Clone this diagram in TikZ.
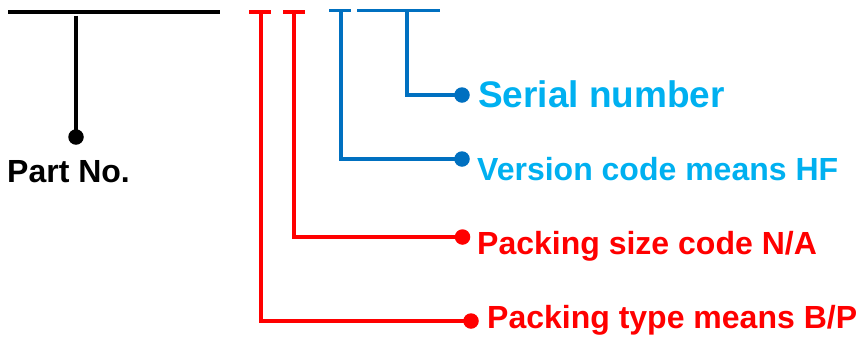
\documentclass[tikz,border=0pt]{standalone}
\usepackage{fontspec}
\setmainfont{Liberation Sans}
\definecolor{lineblue}{HTML}{0070C0}
\definecolor{textblue}{HTML}{00B0F0}
\definecolor{pred}{HTML}{FF0000}
\begin{document}
\begin{tikzpicture}[x=1pt,y=-1pt,
  conn/.style={line width=3.7pt},
  dot/.style={circle,inner sep=0pt,minimum size=15.5pt},
  lbl/.style={anchor=base west,inner sep=0pt,font=\bfseries\fontsize{32}{38}\selectfont}]
\useasboundingbox (0,0) rectangle (858,338);
% black part
\coordinate (kL) at (8,12);
\coordinate (kR) at (220,12);
\coordinate (kT) at (76,15.5);
\node[dot,fill=black] (kd) at (76,137) {};
\draw[conn,black] (kL) -- (kR);
\draw[conn,black] (kT) -- (kd.center);
\node[lbl,text=black] (part) at (7,182) {Part No.};
% red T1 (packing type)
\coordinate (r1L) at (249,12);
\coordinate (r1R) at (271,12);
\coordinate (r1T) at (261,12);
\coordinate (r1C) at (261,321);
\node[dot,fill=pred] (r1d) at (471,321) {};
\draw[conn,pred] (r1L) -- (r1R);
\draw[conn,pred] (r1T) -- (r1C) -- (r1d.center);
\node[lbl,text=pred] (ptype) at (487,328) {Packing type means B/P};
% red T2 (packing size)
\coordinate (r2L) at (283,12);
\coordinate (r2R) at (305,12);
\coordinate (r2T) at (294,12);
\coordinate (r2C) at (294,237);
\node[dot,fill=pred] (r2d) at (462.5,237) {};
\draw[conn,pred] (r2L) -- (r2R);
\draw[conn,pred] (r2T) -- (r2C) -- (r2d.center);
\node[lbl,text=pred] (psize) at (477,254) {Packing size code N/A};
% blue T3 (version)
\coordinate (b1L) at (329,10.5);
\coordinate (b1R) at (351,10.5);
\coordinate (b1T) at (341,10.5);
\coordinate (b1C) at (341,159);
\node[dot,fill=lineblue] (b1d) at (462,159) {};
\draw[conn,lineblue] (b1L) -- (b1R);
\draw[conn,lineblue] (b1T) -- (b1C) -- (b1d.center);
\node[lbl,text=textblue] (ver) at (477,180) {Version code means HF};
% blue line 4 (serial)
\coordinate (b2L) at (357,10.5);
\coordinate (b2R) at (440,10.5);
\coordinate (b2T) at (407,10.5);
\coordinate (b2C) at (407,95);
\node[dot,fill=lineblue] (b2d) at (462,95) {};
\draw[conn,lineblue] (b2L) -- (b2R);
\draw[conn,lineblue] (b2T) -- (b2C) -- (b2d.center);
\node[lbl,text=textblue,font=\bfseries\fontsize{37}{44}\selectfont] (serial) at (478,107) {Serial number};
\end{tikzpicture}
\end{document}
